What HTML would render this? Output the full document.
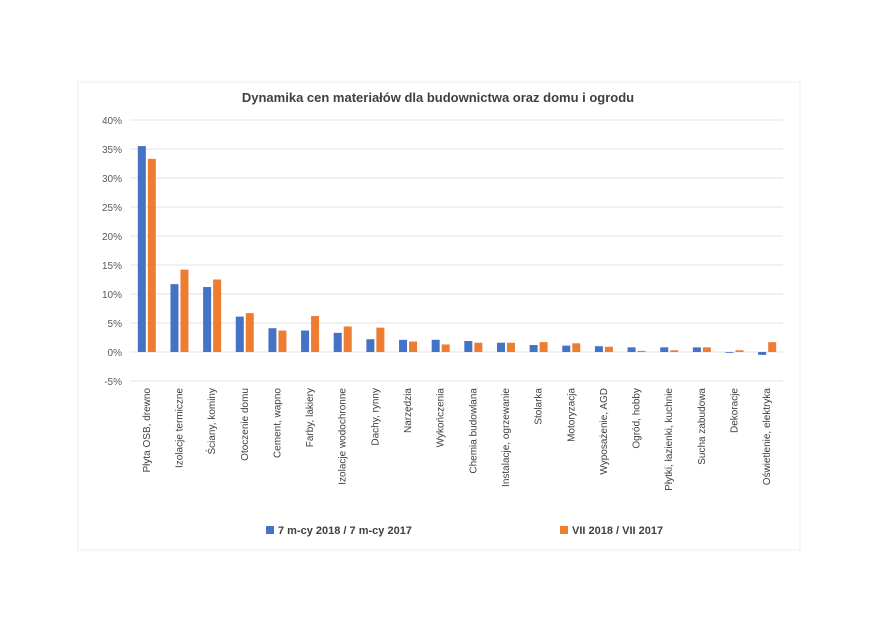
<!DOCTYPE html>
<html><head><meta charset="utf-8"><style>
html,body{margin:0;padding:0;background:#fff;width:872px;height:630px;overflow:hidden}
svg text{font-family:"Liberation Sans",sans-serif}
</style></head><body>
<svg id="chart" width="872" height="630" xmlns="http://www.w3.org/2000/svg">
<rect x="78" y="82" width="722" height="468" fill="#fff" stroke="#ececec"/>
<text x="438" y="102" text-anchor="middle" font-size="13" font-weight="bold" fill="#404040">Dynamika cen materiałów dla budownictwa oraz domu i ogrodu</text>
<g id="grid"></g><g id="bars"></g><g id="xlabels"></g>
<g>
<rect x="266" y="526" width="8" height="8" fill="#4472c4"/>
<text x="278" y="534" font-size="11" font-weight="bold" fill="#404040">7 m-cy 2018 / 7 m-cy 2017</text>
<rect x="560" y="526" width="8" height="8" fill="#ed7d31"/>
<text x="572" y="534" font-size="11" font-weight="bold" fill="#404040">VII 2018 / VII 2017</text>
</g>
</svg>
<script>
const categories=["Płyta OSB, drewno","Izolacje termiczne","Ściany, kominy","Otoczenie domu","Cement, wapno","Farby, lakiery","Izolacje wodochronne","Dachy, rynny","Narzędzia","Wykończenia","Chemia budowlana","Instalacje, ogrzewanie","Stolarka","Motoryzacja","Wyposażenie, AGD","Ogród, hobby","Płytki, łazienki, kuchnie","Sucha zabudowa","Dekoracje","Oświetlenie, elektryka"];
const series7m=[35.5,11.7,11.2,6.1,4.1,3.7,3.3,2.2,2.1,2.1,1.9,1.6,1.2,1.1,1.0,0.8,0.8,0.8,-0.1,-0.5];
const seriesVII=[33.3,14.2,12.5,6.7,3.7,6.2,4.4,4.2,1.8,1.3,1.6,1.6,1.7,1.5,0.9,0.2,0.3,0.8,0.3,1.7];
const yTicks=[-5,0,5,10,15,20,25,30,35,40];
const NS="http://www.w3.org/2000/svg";
const x0=130,x1=783,yTop=120,yBot=381,vMin=-5,vMax=40;
const y=v=>yBot-(v-vMin)/(vMax-vMin)*(yBot-yTop);
const band=(x1-x0)/categories.length;
const cx=i=>x0+band*(i+0.5);
function mk(tag,attrs,parent){const e=document.createElementNS(NS,tag);for(const k in attrs)e.setAttribute(k,attrs[k]);parent.appendChild(e);return e;}
const grid=document.getElementById('grid');
yTicks.forEach(t=>{
  const l=mk('line',{x1:x0,x2:x1,y1:y(t),y2:y(t),stroke:'#e3e3e3','stroke-width':1},grid);
  
  
  const tx=mk('text',{x:122,y:y(t)+4,'text-anchor':'end','font-size':10,fill:'#595959'},grid);
  tx.textContent=t+'%';
  
  
});
const bars=document.getElementById('bars');
const bw=8;
categories.forEach((c,i)=>{
  const a=series7m[i],b=seriesVII[i];
  const r1=mk('rect',{x:cx(i)-bw-0.5,y:Math.min(y(a),y(0)),width:bw,height:Math.max(Math.abs(y(a)-y(0)),0.8),fill:'#4472c4'},bars);
  
  
  const r2=mk('rect',{x:cx(i)+1.5,y:Math.min(y(b),y(0)),width:bw,height:Math.max(Math.abs(y(b)-y(0)),0.8),fill:'#ed7d31'},bars);
  
  
  const t=mk('text',{transform:`translate(${cx(i)+3.5},388) rotate(-90)`,'text-anchor':'end','font-size':10,fill:'#404040'},document.getElementById('xlabels'));
  t.textContent=c;
  
  
});
</script>
</body></html>
